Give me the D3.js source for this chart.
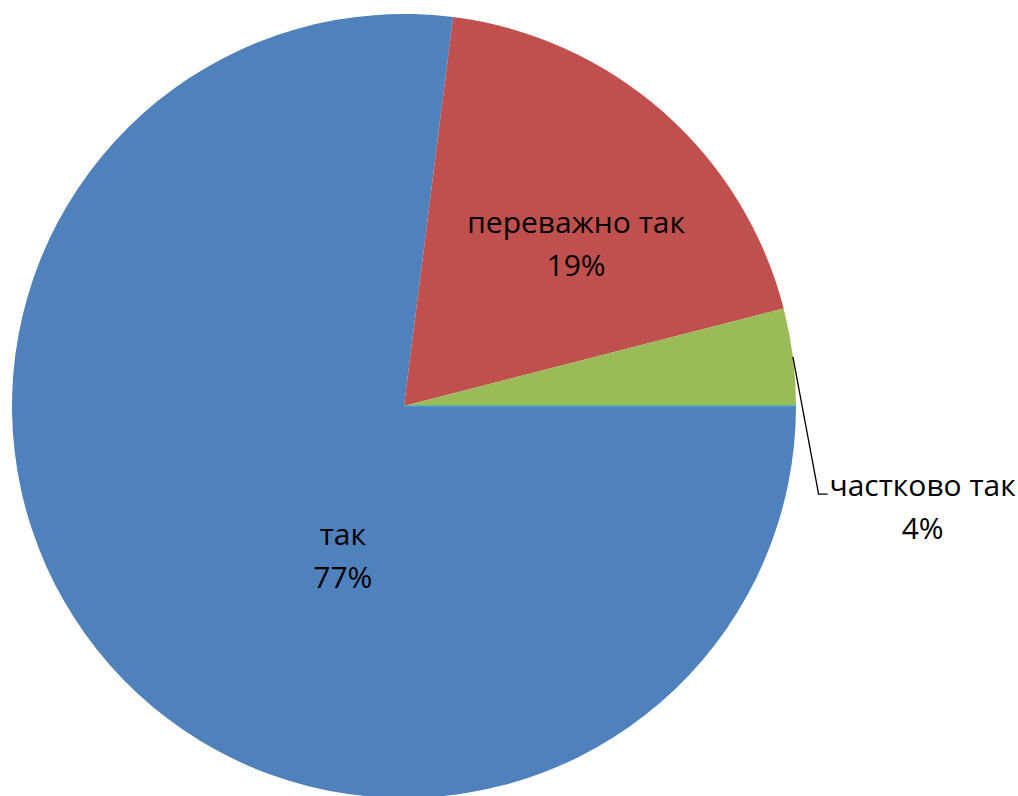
<!DOCTYPE html>
<html><head><meta charset="utf-8">
<script src="https://cdn.jsdelivr.net/npm/d3@7/dist/d3.min.js"></script>
<style>body{margin:0;background:#fff}svg{display:block}</style>
</head><body>
<svg id="c" width="1018" height="796"></svg>
<script>
const categories = ["так", "переважно так", "частково так", "ні"];
const values = [77, 19, 4, 0];
const labels = ["77%", "19%", "4%", ""];
const colors = ["#4f81bd", "#c0504d", "#9bbb59", "#4bacc6"];

const W = 1018, H = 796, cx = 404, cy = 406, R = 392;
const svg = d3.select("#c");
const g = svg.append("g").attr("transform", `translate(${cx},${cy})`);

const pie = d3.pie().sort(null).value(d => d)
  .startAngle(Math.PI / 2).endAngle(Math.PI / 2 + 2 * Math.PI);
const arcs = pie(values);
const arc = d3.arc().innerRadius(0).outerRadius(R);

g.selectAll("path.slice").data(arcs).enter().append("path")
  .attr("class", "slice")
  .attr("d", arc)
  .attr("fill", (d, i) => colors[i])
  .attr("stroke", (d, i) => d.endAngle - d.startAngle < 1e-6 ? colors[i] : "none")
  .attr("stroke-width", 1.5);

// label layout (offsets relative to centre, in units of radius)
const labelLayout = [
  {fx: -0.156, fy: 0.383, inside: true},
  {fx: 0.439, fy: -0.413, inside: true},
  {fx: 1.323, fy: 0.258, inside: false},
  null
];
const fs = 30, lh = 43;
arcs.forEach((a, i) => {
  const L = labelLayout[i];
  if (!L) return;
  const x = L.fx * R, y = L.fy * R;
  const t = g.append("text")
    .attr("text-anchor", "middle")
    .attr("font-family", "Open Sans, Liberation Sans, sans-serif")
    .attr("font-size", fs)
    .attr("fill", "#000");
  t.append("tspan").attr("x", x).attr("y", y - lh / 2 + fs * 0.35).text(categories[i]);
  t.append("tspan").attr("x", x).attr("y", y + lh / 2 + fs * 0.35).text(labels[i]);
  if (!L.inside) {
    const mid = (a.startAngle + a.endAngle) / 2;
    const ex = R * Math.sin(mid), ey = -R * Math.cos(mid);
    const lx = x - 95, ly = y - lh / 2 + 8.5;
    g.append("polyline")
      .attr("points", `${ex},${ey} ${lx - 9},${ly} ${lx},${ly}`)
      .attr("fill", "none").attr("stroke", "#000").attr("stroke-width", 1.3);
  }
});
</script>
</body></html>
